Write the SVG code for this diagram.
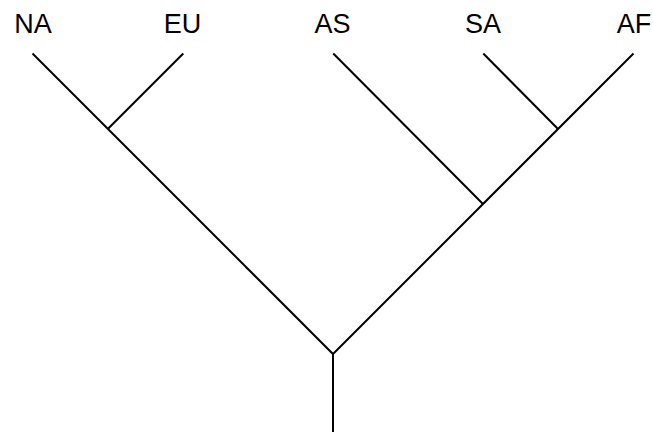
<svg xmlns="http://www.w3.org/2000/svg" width="653" height="432" viewBox="0 0 653 432">
<style>
.edge{stroke:#000;stroke-width:2;fill:none;stroke-linecap:butt}
.lbl{font-family:"Liberation Sans",Arial,sans-serif;font-size:27px;fill:#000;text-anchor:middle}
</style>
<rect width="653" height="432" fill="#fff"/>
<g id="connectors">
<line class="edge" x1="333" y1="354" x2="333" y2="432"/>
<line class="edge" x1="333" y1="354" x2="32.5" y2="53.5"/>
<line class="edge" x1="108.3" y1="128.5" x2="183.3" y2="53.5"/>
<line class="edge" x1="333" y1="354" x2="633.5" y2="53.5"/>
<line class="edge" x1="483" y1="204" x2="333.3" y2="53.5"/>
<line class="edge" x1="558" y1="129" x2="483.3" y2="53.5"/>
</g>
<g id="NA"><text class="lbl" x="33" y="33">NA</text></g>
<g id="EU"><text class="lbl" x="182.5" y="33">EU</text></g>
<g id="AS"><text class="lbl" x="332.5" y="33">AS</text></g>
<g id="SA"><text class="lbl" x="483" y="33">SA</text></g>
<g id="AF"><text class="lbl" x="634" y="33">AF</text></g>
</svg>
